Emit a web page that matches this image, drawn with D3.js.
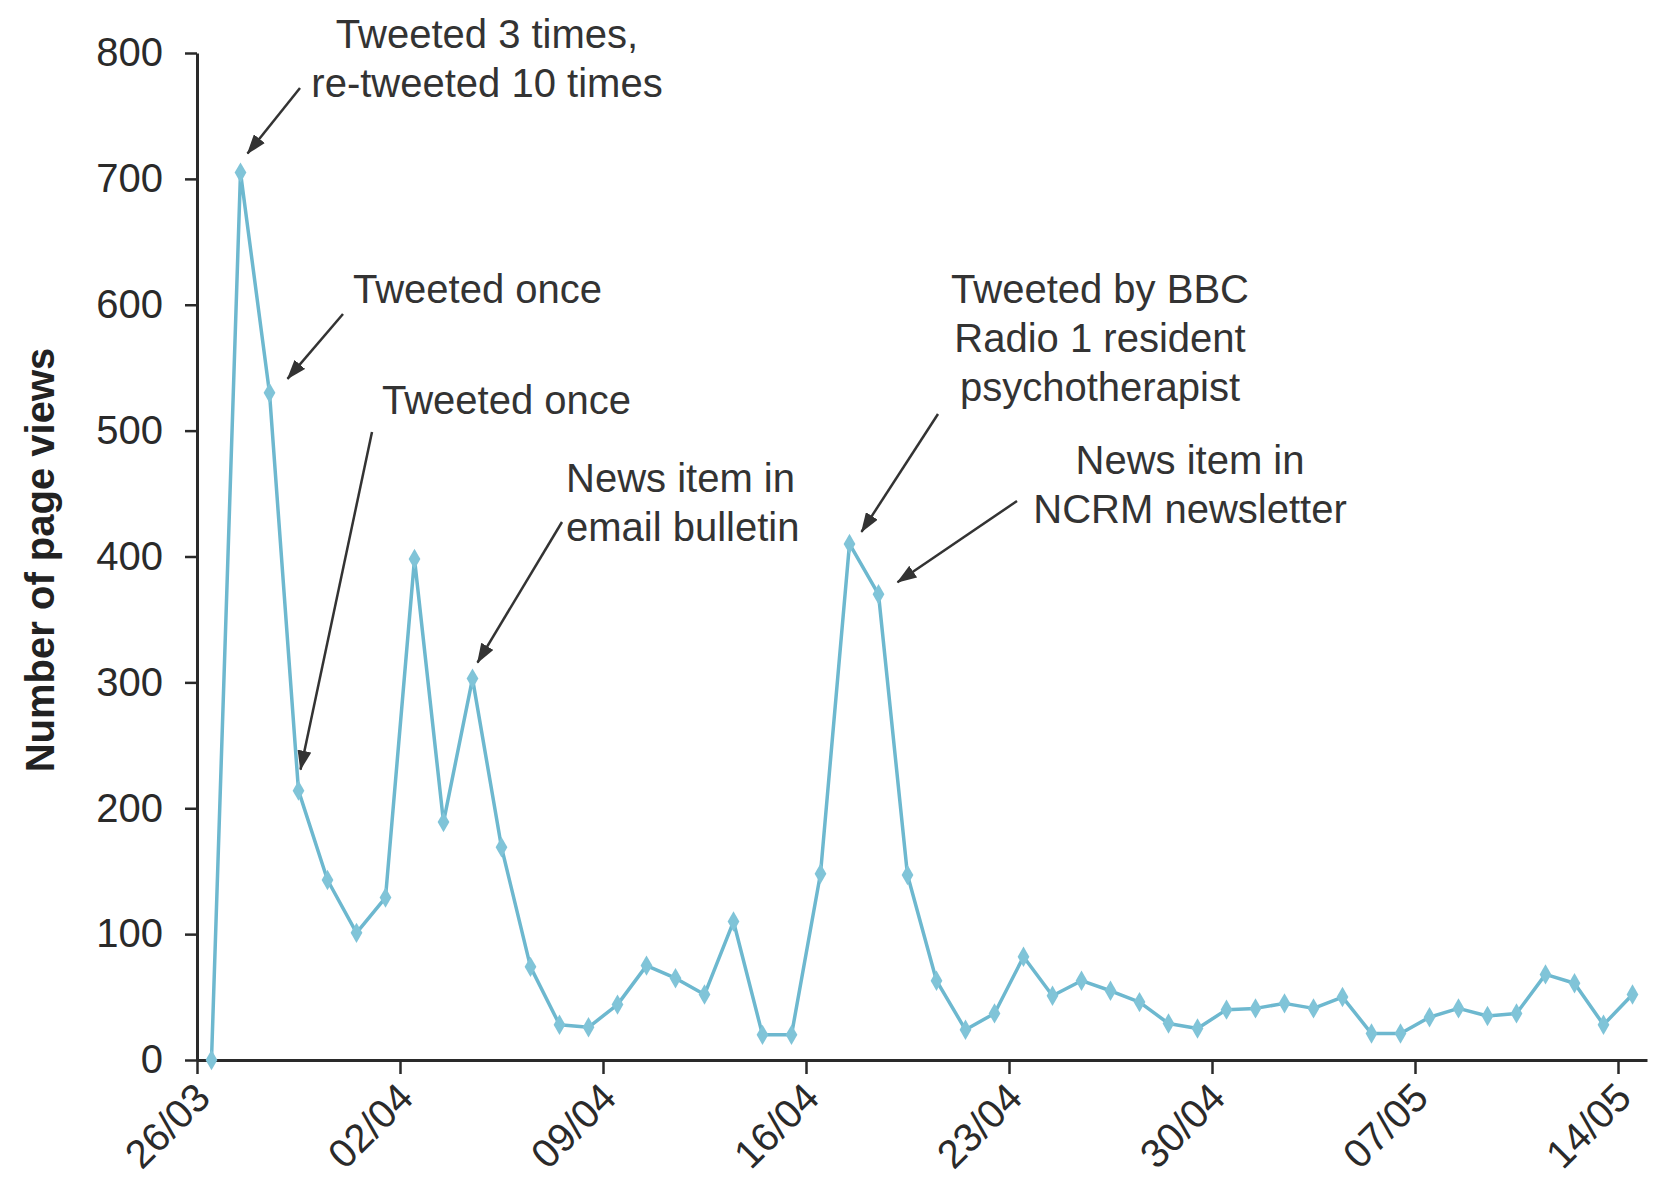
<!DOCTYPE html>
<html lang="en">
<head>
    <meta charset="UTF-8">
    <title>Page views</title>
    <script src="https://d3js.org/d3.v7.min.js"></script>
    <style>
        body {
            margin: 0;
            background: #ffffff;
        }
        svg {
            display: block;
            font-family: "Liberation Sans", Arial, sans-serif;
        }
        .axis path, .axis line {
            stroke: #2a2a2a;
        }
        .axis text {
            font-size: 40px;
            fill: #2a2a2a;
        }
        .note {
            font-size: 40px;
            fill: #333;
        }
        .axis-label {
            font-size: 40px;
            font-weight: bold;
            fill: #222;
        }
    </style>
</head>
<body>
<svg></svg>
<script>
    // daily page views, starting 26/03
    const startDate = "26/03/2013";
    const pageViews = [0, 705, 530, 214, 143, 101, 129, 398, 189, 303,
                       169, 74, 28, 26, 44, 75, 65, 52, 110, 20,
                       20, 148, 410, 370, 147, 63, 24, 37, 82, 51,
                       63, 55, 46, 29, 25, 40, 41, 45, 41, 50,
                       21, 21, 34, 41, 35, 37, 68, 61, 28, 52];
    const xTickLabels = ["26/03", "02/04", "09/04", "16/04", "23/04", "30/04", "07/05", "14/05"];
    const yTicks = [0, 100, 200, 300, 400, 500, 600, 700, 800];

    // annotations: which day the arrow points at, and the text
    const notes = [
        { day: 1,  lines: ["Tweeted 3 times,", "re-tweeted 10 times"], x: 487, y: 48, anchor: "middle", from: [300, 88], tip: [7, -19] },
        { day: 2,  lines: ["Tweeted once"], x: 353, y: 303, anchor: "start", from: [343, 314], tip: [18, -14] },
        { day: 3,  lines: ["Tweeted once"], x: 382, y: 414, anchor: "start", from: [372, 432], tip: [2, -21] },
        { day: 9,  lines: ["News item in", "email bulletin"], x: 566, y: 492, anchor: "start", from: [562, 522], tip: [5, -16] },
        { day: 22, lines: ["Tweeted by BBC", "Radio 1 resident", "psychotherapist"], x: 1100, y: 303, anchor: "middle", from: [938, 414], tip: [12, -12] },
        { day: 23, lines: ["News item in", "NCRM newsletter"], x: 1190, y: 474, anchor: "middle", from: [1017, 501], tip: [19, -12] }
    ];

    const W = 1653, H = 1182;
    const parse = d3.utcParse("%d/%m/%Y");
    const year = startDate.slice(6);
    const t0 = parse(startDate);

    const data = pageViews.map((v, i) => ({
        date: d3.utcHour.offset(d3.utcDay.offset(t0, i), 12),
        value: v
    }));

    const svg = d3.select("svg")
        .attr("width", W)
        .attr("height", H);

    const x = d3.scaleUtc()
        .domain([t0, d3.utcDay.offset(t0, pageViews.length)])
        .range([197, 1647]);

    const y = d3.scaleLinear()
        .domain([0, 800])
        .range([1060, 53]);

    // axes
    const xAxis = svg.append("g")
        .attr("class", "axis x-axis")
        .attr("transform", `translate(0,${y(0)})`)
        .call(d3.axisBottom(x)
            .tickValues(xTickLabels.map(s => parse(s + "/" + year)))
            .tickSize(14)
            .tickSizeOuter(0)
            .tickFormat(d3.utcFormat("%d/%m")));

    xAxis.select(".domain").attr("stroke-width", 3);
    xAxis.selectAll(".tick line").attr("stroke-width", 2.5);
    xAxis.selectAll(".tick text")
        .attr("x", 0)
        .attr("y", 0)
        .attr("dy", 0)
        .attr("text-anchor", "end")
        .attr("transform", "translate(15,40) rotate(-45)");

    const yAxis = svg.append("g")
        .attr("class", "axis y-axis")
        .attr("transform", `translate(${x(t0)},0)`)
        .call(d3.axisLeft(y)
            .tickValues(yTicks)
            .tickSize(12)
            .tickSizeOuter(0)
            .tickPadding(22));

    yAxis.select(".domain").attr("stroke-width", 3);
    yAxis.selectAll(".tick line").attr("stroke-width", 2.5);

    svg.append("text")
        .attr("class", "axis-label")
        .attr("transform", "translate(54,560) rotate(-90)")
        .attr("text-anchor", "middle")
        .text("Number of page views");

    // series
    const line = d3.line()
        .x(d => x(d.date))
        .y(d => y(d.value));

    svg.append("path")
        .datum(data)
        .attr("fill", "none")
        .attr("stroke", "#6db8cf")
        .attr("stroke-width", 3.5)
        .attr("stroke-linejoin", "round")
        .attr("d", line);

    svg.selectAll(".pt")
        .data(data)
        .enter().append("path")
        .attr("class", "pt")
        .attr("transform", d => `translate(${x(d.date)},${y(d.value)})`)
        .attr("d", d3.symbol().type(d3.symbolDiamond).size(120))
        .attr("fill", "#80c4d8");

    // annotations
    svg.append("defs").append("marker")
        .attr("id", "arrow")
        .attr("viewBox", "0 0 20 14")
        .attr("refX", 19)
        .attr("refY", 7)
        .attr("markerWidth", 20)
        .attr("markerHeight", 14)
        .attr("markerUnits", "userSpaceOnUse")
        .attr("orient", "auto")
        .append("path")
        .attr("d", "M0,0 L20,7 L0,14 Z")
        .attr("fill", "#333");

    notes.forEach(n => {
        const p = data[n.day];
        svg.append("line")
            .attr("x1", n.from[0])
            .attr("y1", n.from[1])
            .attr("x2", x(p.date) + n.tip[0])
            .attr("y2", y(p.value) + n.tip[1])
            .attr("stroke", "#333")
            .attr("stroke-width", 2.5)
            .attr("marker-end", "url(#arrow)");

        const t = svg.append("text")
            .attr("class", "note")
            .attr("text-anchor", n.anchor);
        n.lines.forEach((s, i) => {
            t.append("tspan")
                .attr("x", n.x)
                .attr("y", n.y + i * 49)
                .text(s);
        });
    });
</script>
</body>
</html>
